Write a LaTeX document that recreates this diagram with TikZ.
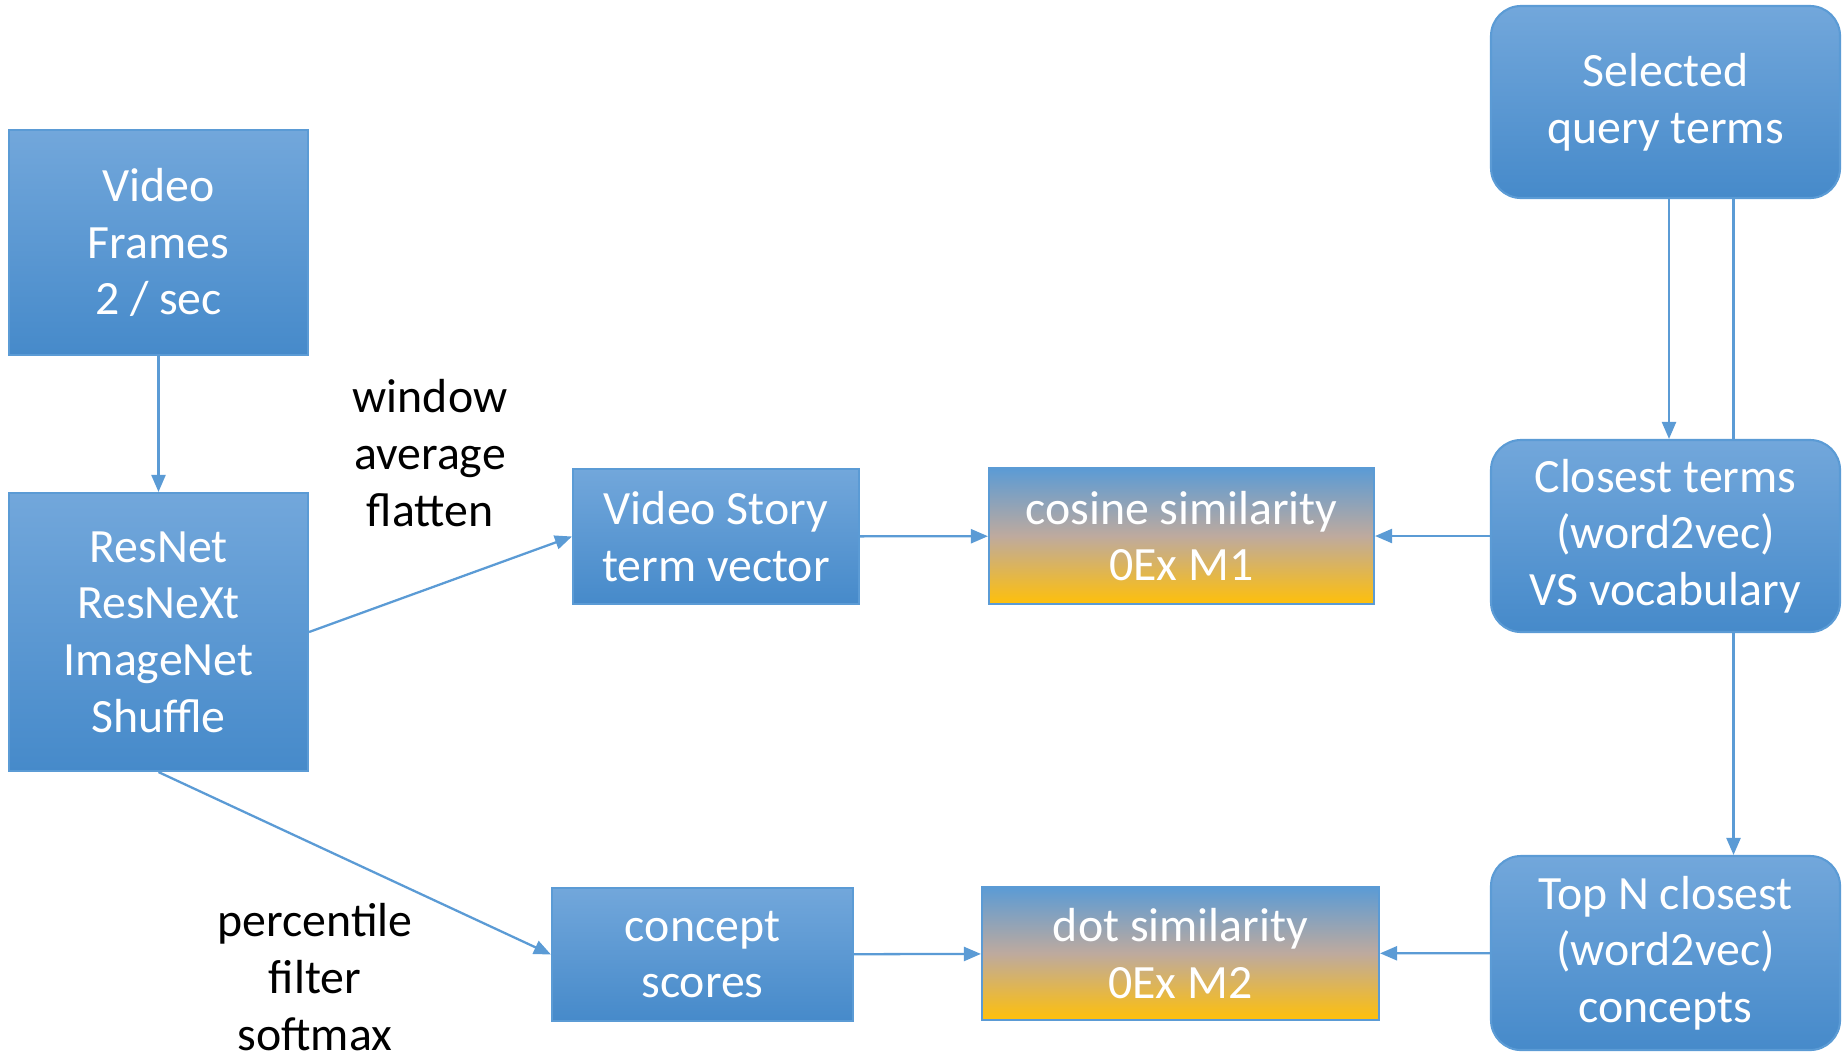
\documentclass[tikz,border=0pt]{standalone}
\usepackage{fontspec}
\setmainfont{Carlito}
\usetikzlibrary{arrows.meta,backgrounds}
\definecolor{linkblue}{RGB}{91,155,213}
\definecolor{boxtop}{RGB}{114,167,219}
\definecolor{boxbot}{RGB}{70,138,202}
\definecolor{mixmid}{RGB}{190,170,158}
\definecolor{mixbot}{RGB}{255,192,10}
\tikzset{
  bluebox/.style={draw=linkblue, line width=0.6pt, top color=boxtop, bottom color=boxbot,
    text=white, align=center, font=\fontsize{13.6}{16.1}\selectfont, inner sep=0pt},
  roundbox/.style={bluebox, rounded corners=0.3cm},
  mixbox/.style={bluebox, top color=linkblue, bottom color=mixbot, middle color=mixmid},
  arr/.style={draw=linkblue, line width=0.65pt, -{Triangle[length=0.17cm,width=0.14cm]}},
  note/.style={align=center, font=\fontsize{13.6}{16.1}\selectfont}
}

\begin{document}
\begin{tikzpicture}
  \useasboundingbox (0,0) rectangle (18.42,-10.53);
  % left column
  \node [bluebox, minimum width=2.99cm, minimum height=2.25cm] (frames) at (1.585,-2.425) {Video\\Frames\\2 / sec};
  \node [bluebox, minimum width=2.99cm, minimum height=2.78cm] (resnet) at (1.585,-6.32) {ResNet\\ResNeXt\\ImageNet\\Shuffle};
  % middle
  \node [bluebox, minimum width=2.86cm, minimum height=1.35cm] (story) at (7.16,-5.365) {Video Story\\term vector};
  \node [bluebox, minimum width=3.01cm, minimum height=1.33cm] (scores) at (7.025,-9.545) {concept\\scores};
  \node [mixbox, minimum width=3.85cm, minimum height=1.36cm] (cosine) at (11.815,-5.36) {cosine similarity\\0Ex M1};
  \node [mixbox, minimum width=3.97cm, minimum height=1.33cm] (dot) at (11.805,-9.535) {dot similarity\\0Ex M2};
  % right column
  \node [roundbox, minimum width=3.49cm, minimum height=1.92cm] (query) at (16.655,-1.02) {Selected\\query terms};
  \node [roundbox, minimum width=3.49cm, minimum height=1.92cm] (closest) at (16.655,-5.36) {Closest terms\\(word2vec)\\VS vocabulary};
  \node [roundbox, minimum width=3.49cm, minimum height=1.94cm] (topn) at (16.655,-9.53) {Top N closest\\(word2vec)\\concepts};
  % labels
  \node [note] (winlbl) at (4.30,-4.53) {window\\average\\flatten};
  \node [note] (pctlbl) at (3.15,-9.77) {percentile\\filter\\softmax};

  \draw [arr] (frames) -- (resnet);
  \draw [arr] (resnet.east) -- (story.west);
  \draw [arr] (resnet.south) -- (scores.west);
  \draw [arr] (story) -- (cosine);
  \draw [arr] (scores) -- (dot);
  \draw [arr] (closest) -- (cosine);
  \draw [arr] (topn) -- (dot);
  \draw [arr] ([xshift=0.035cm]query.south) -- ([xshift=0.035cm]closest.north);
  \begin{scope}[on background layer]
    \draw [arr] ([xshift=0.68cm]query.south) -- ([xshift=0.68cm]topn.north);
  \end{scope}
\end{tikzpicture}
\end{document}
